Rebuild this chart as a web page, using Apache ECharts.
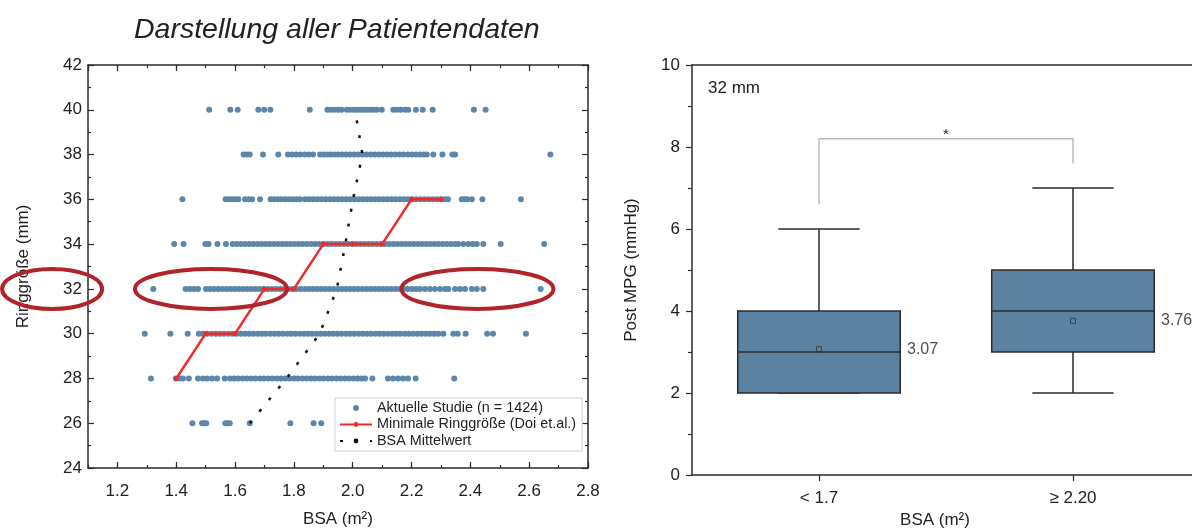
<!DOCTYPE html>
<html>
<head>
<meta charset="utf-8">
<title>Darstellung aller Patientendaten</title>
<script src="https://cdn.jsdelivr.net/npm/echarts@6/dist/echarts.min.js"></script>
<style>
  html, body { margin: 0; padding: 0; background: #fff; }
  #main { width: 1192px; height: 530px; }
</style>
</head>
<body>
<div id="main"></div>
<script>
// ---- left panel: BSA per ring size ----
var ringSizes = [26, 28, 30, 32, 34, 36, 38, 40];

var bsaRing26 = [1.455, 1.488, 1.495, 1.502, 1.567, 1.574, 1.582, 1.650, 1.788, 1.867, 1.893];
var bsaRing28 = [1.314, 1.399, 1.413, 1.423, 1.443, 1.474, 1.491, 1.505, 1.522, 1.539, 1.565,
  1.583, 1.597, 1.611, 1.626, 1.640, 1.655, 1.669, 1.684, 1.698, 1.713, 1.727, 1.742, 1.756,
  1.771, 1.785, 1.800, 1.814, 1.829, 1.843, 1.858, 1.872, 1.887, 1.901, 1.916, 1.930, 1.945,
  1.959, 1.974, 1.988, 2.003, 2.017, 2.030, 2.042, 2.067, 2.120, 2.137, 2.154, 2.171, 2.188,
  2.214, 2.345];
var bsaRing30 = [1.293, 1.380, 1.439, 1.477, 1.491, 1.505, 1.520, 1.534, 1.548, 1.562, 1.577,
  1.591, 1.605, 1.620, 1.634, 1.648, 1.662, 1.677, 1.691, 1.705, 1.720, 1.734, 1.748, 1.762,
  1.777, 1.791, 1.805, 1.820, 1.834, 1.848, 1.862, 1.877, 1.891, 1.905, 1.920, 1.934, 1.948,
  1.962, 1.977, 1.991, 2.005, 2.020, 2.034, 2.048, 2.062, 2.077, 2.091, 2.105, 2.120, 2.134,
  2.148, 2.162, 2.177, 2.191, 2.205, 2.220, 2.234, 2.248, 2.262, 2.277, 2.291, 2.308, 2.342,
  2.357, 2.384, 2.457, 2.477, 2.589];
var bsaRing32 = [1.322, 1.432, 1.446, 1.460, 1.474, 1.501, 1.515, 1.529, 1.543, 1.557, 1.571,
  1.585, 1.599, 1.613, 1.627, 1.641, 1.655, 1.669, 1.683, 1.697, 1.711, 1.725, 1.739, 1.753,
  1.767, 1.781, 1.795, 1.809, 1.823, 1.837, 1.851, 1.865, 1.879, 1.893, 1.907, 1.921, 1.935,
  1.949, 1.963, 1.977, 1.991, 2.005, 2.019, 2.033, 2.047, 2.061, 2.075, 2.089, 2.103, 2.117,
  2.131, 2.145, 2.159, 2.173, 2.187, 2.201, 2.215, 2.229, 2.246, 2.263, 2.280, 2.297, 2.314,
  2.325, 2.348, 2.365, 2.382, 2.405, 2.422, 2.444, 2.639];
var bsaRing34 = [1.393, 1.425, 1.499, 1.510, 1.540, 1.569, 1.592, 1.606, 1.620, 1.634, 1.648,
  1.662, 1.676, 1.690, 1.704, 1.718, 1.732, 1.746, 1.760, 1.774, 1.788, 1.802, 1.816, 1.830,
  1.844, 1.858, 1.872, 1.886, 1.900, 1.914, 1.928, 1.942, 1.956, 1.970, 1.984, 1.998, 2.012,
  2.026, 2.040, 2.054, 2.068, 2.082, 2.096, 2.110, 2.124, 2.138, 2.152, 2.166, 2.180, 2.194,
  2.208, 2.222, 2.236, 2.250, 2.264, 2.278, 2.292, 2.306, 2.320, 2.334, 2.348, 2.359, 2.376,
  2.393, 2.408, 2.422, 2.444, 2.503, 2.651];
var bsaRing36 = [1.421, 1.568, 1.580, 1.590, 1.600, 1.611, 1.634, 1.646, 1.658, 1.685, 1.721,
  1.733, 1.745, 1.757, 1.770, 1.783, 1.796, 1.809, 1.821, 1.838, 1.852, 1.866, 1.880, 1.894,
  1.908, 1.922, 1.936, 1.950, 1.964, 1.978, 1.992, 2.006, 2.020, 2.034, 2.048, 2.062, 2.076,
  2.090, 2.104, 2.118, 2.132, 2.146, 2.160, 2.174, 2.188, 2.202, 2.216, 2.230, 2.244, 2.258,
  2.272, 2.286, 2.300, 2.313, 2.324, 2.371, 2.380, 2.389, 2.405, 2.441, 2.572];
var bsaRing38 = [1.629, 1.640, 1.650, 1.695, 1.747, 1.780, 1.794, 1.808, 1.822, 1.837, 1.850,
  1.865, 1.889, 1.901, 1.913, 1.925, 1.938, 1.950, 1.963, 1.977, 1.991, 2.005, 2.019, 2.033,
  2.047, 2.061, 2.075, 2.089, 2.103, 2.117, 2.131, 2.145, 2.159, 2.173, 2.187, 2.201, 2.215,
  2.229, 2.241, 2.252, 2.274, 2.305, 2.339, 2.348, 2.672];
var bsaRing40 = [1.512, 1.584, 1.609, 1.679, 1.699, 1.720, 1.854, 1.914, 1.926, 1.938, 1.950,
  1.962, 1.980, 1.991, 2.004, 2.014, 2.025, 2.036, 2.048, 2.059, 2.070, 2.082, 2.099, 2.138,
  2.150, 2.163, 2.178, 2.189, 2.215, 2.238, 2.272, 2.412, 2.452];

var studyRows = [bsaRing26, bsaRing28, bsaRing30, bsaRing32, bsaRing34, bsaRing36, bsaRing38, bsaRing40];

// Doi et al. minimal ring size
var doiBsa  = [1.4, 1.5, 1.6, 1.7, 1.8, 1.9, 2.0, 2.1, 2.2, 2.3];
var doiRing = [28, 30, 30, 32, 32, 34, 34, 34, 36, 36];

// mean BSA per ring size
var meanBsa = [1.650, 1.775, 1.888, 1.946, 1.975, 2.001, 2.033, 2.008];

// ---- right panel: 32 mm boxplot ----
var groups = ['< 1.7', '\u2265 2.20'];
// min, Q1, median, Q3, max
var boxStats = [
  [2, 2, 3, 4, 6],
  [2, 3, 4, 5, 7]
];
var groupMeans = [3.07, 3.76];

var studyPoints = [];
studyRows.forEach(function (row, i) {
  row.forEach(function (b) { studyPoints.push([b, ringSizes[i]]); });
});
var doiPoints = doiBsa.map(function (b, i) { return [b, doiRing[i]]; });
var meanPoints = meanBsa.map(function (b, i) { return [b, ringSizes[i]]; });
var boxData = boxStats.map(function (s, i) { return [i].concat(s); });
var meanData = groupMeans.map(function (m, i) { return [i, m]; });

var axisCol = '#2b2b2b';
var txtCol = '#222';
var font = 'Liberation Sans, Arial, sans-serif';

function renderBox(params, api) {
  var x = api.value(0);
  var lo = api.coord([x, api.value(1)]);
  var q1 = api.coord([x, api.value(2)]);
  var md = api.coord([x, api.value(3)]);
  var q3 = api.coord([x, api.value(4)]);
  var hi = api.coord([x, api.value(5)]);
  var bw = api.size([1, 0])[0] * 0.64;
  var cx = md[0];
  var st = { stroke: axisCol, lineWidth: 1.5 };
  return {
    type: 'group',
    children: [
      { type: 'line', shape: { x1: cx, y1: hi[1], x2: cx, y2: q3[1] }, style: st },
      { type: 'line', shape: { x1: cx, y1: q1[1], x2: cx, y2: lo[1] }, style: st },
      { type: 'line', shape: { x1: cx - bw / 4, y1: hi[1], x2: cx + bw / 4, y2: hi[1] }, style: st },
      { type: 'line', shape: { x1: cx - bw / 4, y1: lo[1], x2: cx + bw / 4, y2: lo[1] }, style: st },
      { type: 'rect', shape: { x: cx - bw / 2, y: q3[1], width: bw, height: q1[1] - q3[1] },
        style: { fill: '#5b82a0', stroke: axisCol, lineWidth: 1.5 } },
      { type: 'line', shape: { x1: cx - bw / 2, y1: md[1], x2: cx + bw / 2, y2: md[1] }, style: st }
    ]
  };
}

var lineAxis = { show: true, onZero: false, lineStyle: { color: axisCol, width: 1.5 } };
var tickIn = { show: true, inside: true, length: 6, lineStyle: { color: axisCol, width: 1.2 } };
var tickInMinor = { show: true, inside: true, length: 3, lineStyle: { color: axisCol, width: 1.2 } };

var option = {
  animation: false,
  backgroundColor: '#fff',
  textStyle: { fontFamily: font, color: txtCol },
  title: {
    text: 'Darstellung aller Patientendaten',
    left: 129,
    top: 11,
    textStyle: { fontSize: 28.5, fontStyle: 'italic', fontWeight: 'normal', color: txtCol, fontFamily: font }
  },
  legend: {
    data: ['Aktuelle Studie (n = 1424)', 'Minimale Ringgr\u00f6\u00dfe (Doi et.al.)', 'BSA Mittelwert'],
    orient: 'vertical',
    left: 335,
    top: 398,
    itemWidth: 32,
    itemHeight: 6,
    itemGap: 2.5,
    padding: [3, 6, 3, 4],
    borderColor: '#d0d0d0',
    borderWidth: 1,
    backgroundColor: '#fff',
    selectedMode: false,
    textStyle: { fontSize: 14.4, color: txtCol, fontFamily: font }
  },
  grid: [
    { left: 88, width: 500, top: 65, bottom: 62, outerBoundsMode: 'none', containLabel: false },
    { left: 692, width: 508, top: 65, bottom: 55, outerBoundsMode: 'none', containLabel: false }
  ],
  xAxis: [
    { // bottom, major
      gridIndex: 0, type: 'value', position: 'bottom', min: 1.1, max: 2.8,
      minInterval: 0.2, maxInterval: 0.2,
      name: 'BSA (m\u00b2)', nameLocation: 'middle', nameGap: 43,
      nameTextStyle: { fontSize: 17, color: txtCol },
      axisLine: lineAxis,
      axisTick: tickIn,
      axisLabel: { fontSize: 17, color: txtCol, margin: 15, showMinLabel: false,
        formatter: function (v) { return v.toFixed(1); } },
      splitLine: { show: false }
    },
    { // bottom, minor ticks
      gridIndex: 0, type: 'value', position: 'bottom', min: 1.1, max: 2.8, interval: 0.1,
      axisLine: { show: false },
      axisTick: tickInMinor,
      axisLabel: { show: false }, splitLine: { show: false }
    },
    { // top mirror, major
      gridIndex: 0, type: 'value', position: 'top', min: 1.1, max: 2.8,
      minInterval: 0.2, maxInterval: 0.2,
      axisLine: lineAxis,
      axisTick: tickIn,
      axisLabel: { show: false }, splitLine: { show: false }
    },
    { // top mirror, minor
      gridIndex: 0, type: 'value', position: 'top', min: 1.1, max: 2.8, interval: 0.1,
      axisLine: { show: false },
      axisTick: tickInMinor,
      axisLabel: { show: false }, splitLine: { show: false }
    },
    { // right panel categories
      gridIndex: 1, type: 'category', position: 'bottom', data: groups,
      name: 'BSA (m\u00b2)', nameLocation: 'middle', nameGap: 33,
      nameTextStyle: { fontSize: 17, color: txtCol, padding: [0, 22, 0, 0] },
      axisLine: lineAxis,
      axisTick: { show: true, alignWithLabel: true, length: 6, lineStyle: { color: axisCol, width: 1.2 } },
      axisLabel: { fontSize: 17, color: txtCol, margin: 15 }
    },
    {
      gridIndex: 1, type: 'category', position: 'top', data: groups,
      axisLine: lineAxis, axisTick: { show: false }, axisLabel: { show: false }
    }
  ],
  yAxis: [
    {
      gridIndex: 0, type: 'value', position: 'left', min: 24, max: 42, interval: 2,
      name: 'Ringgr\u00f6\u00dfe (mm)', nameLocation: 'middle', nameGap: 56,
      nameTextStyle: { fontSize: 17, color: txtCol },
      axisLine: lineAxis,
      axisTick: tickIn,
      minorTick: { show: true, splitNumber: 2, length: 3, lineStyle: { color: axisCol, width: 1.2 } },
      axisLabel: { fontSize: 17, color: txtCol, margin: 6 },
      splitLine: { show: false }
    },
    {
      gridIndex: 0, type: 'value', position: 'right', min: 24, max: 42, interval: 2,
      axisLine: lineAxis,
      axisTick: tickIn,
      minorTick: { show: true, splitNumber: 2, length: 3, lineStyle: { color: axisCol, width: 1.2 } },
      axisLabel: { show: false }, splitLine: { show: false }
    },
    {
      gridIndex: 1, type: 'value', position: 'left', min: 0, max: 10, interval: 2,
      name: 'Post MPG (mmHg)', nameLocation: 'middle', nameGap: 52,
      nameTextStyle: { fontSize: 17, color: txtCol },
      axisLine: lineAxis,
      axisTick: { show: true, length: 6, lineStyle: { color: axisCol, width: 1.2 } },
      minorTick: { show: true, splitNumber: 2, length: 4, lineStyle: { color: axisCol, width: 1.2 } },
      axisLabel: { fontSize: 17, color: txtCol, margin: 12 },
      splitLine: { show: false }
    }
  ],
  series: [
    {
      name: 'Aktuelle Studie (n = 1424)', type: 'scatter',
      xAxisIndex: 0, yAxisIndex: 0,
      symbolSize: 6,
      itemStyle: { color: '#5a87ab', opacity: 1 },
      data: studyPoints, z: 2
    },
    {
      name: 'Minimale Ringgr\u00f6\u00dfe (Doi et.al.)', type: 'line',
      xAxisIndex: 0, yAxisIndex: 0,
      symbol: 'circle', symbolSize: 5,
      itemStyle: { color: '#ee2b2b' },
      lineStyle: { color: '#ee2b2b', width: 2.5 },
      data: doiPoints, z: 4
    },
    {
      name: 'BSA Mittelwert', type: 'line',
      xAxisIndex: 0, yAxisIndex: 0,
      symbol: 'none',
      itemStyle: { color: '#111' },
      lineStyle: { color: '#111', width: 2.5, type: [3, 12] },
      data: meanPoints, z: 3
    },
    {
      name: 'box', type: 'custom',
      xAxisIndex: 4, yAxisIndex: 2,
      renderItem: renderBox,
      encode: { x: 0, y: [1, 2, 3, 4, 5] },
      data: boxData, z: 2
    },
    {
      name: 'mean', type: 'scatter',
      xAxisIndex: 4, yAxisIndex: 2,
      symbol: 'rect', symbolSize: 5,
      itemStyle: { color: 'rgba(0,0,0,0)', borderColor: '#333', borderWidth: 1 },
      label: {
        show: true, position: 'right', distance: 85,
        fontSize: 16, color: txtCol,
        formatter: function (p) { return p.value[1].toFixed(2); }
      },
      data: meanData, z: 5
    },
    {
      name: 'sig', type: 'line',
      xAxisIndex: 4, yAxisIndex: 2,
      symbol: 'none',
      lineStyle: { color: '#999', width: 1 },
      data: [[0, 6.6], [0, 8.2], [1, 8.2], [1, 7.6]], z: 3
    }
  ]
};

var chart = echarts.init(document.getElementById('main'));
chart.setOption(option);

// annotations anchored to data coordinates
function px(gi, p) {
  return chart.convertToPixel({ xAxisIndex: gi === 0 ? 0 : 4, yAxisIndex: gi === 0 ? 0 : 2 }, p);
}
var eLabel = px(0, [0.978, 32]);
var eLeft = px(0, [1.518, 32]);
var eRight = px(0, [2.424, 32]);
var bracketL = px(1, [0, 8.2]);
var bracketR = px(1, [1, 8.2]);
var ellipseStyle = { fill: 'none', stroke: '#b0242a', lineWidth: 4 };

chart.setOption({
  graphic: [
    { type: 'ellipse', z: 100, shape: { cx: eLabel[0], cy: eLabel[1], rx: 50, ry: 20 }, style: ellipseStyle },
    { type: 'ellipse', z: 100, shape: { cx: eLeft[0], cy: eLeft[1], rx: 76, ry: 20 }, style: ellipseStyle },
    { type: 'ellipse', z: 100, shape: { cx: eRight[0], cy: eRight[1], rx: 76, ry: 20 }, style: ellipseStyle },
    { type: 'text', z: 100, left: 708, top: 80,
      style: { text: '32 mm', fontSize: 17, fill: txtCol, fontFamily: font } },
    { type: 'text', z: 100, x: (bracketL[0] + bracketR[0]) / 2, y: bracketL[1] + 4,
      style: { text: '*', fontSize: 15, fill: txtCol, align: 'center', verticalAlign: 'bottom', fontFamily: font } }
  ]
});
</script>
</body>
</html>
